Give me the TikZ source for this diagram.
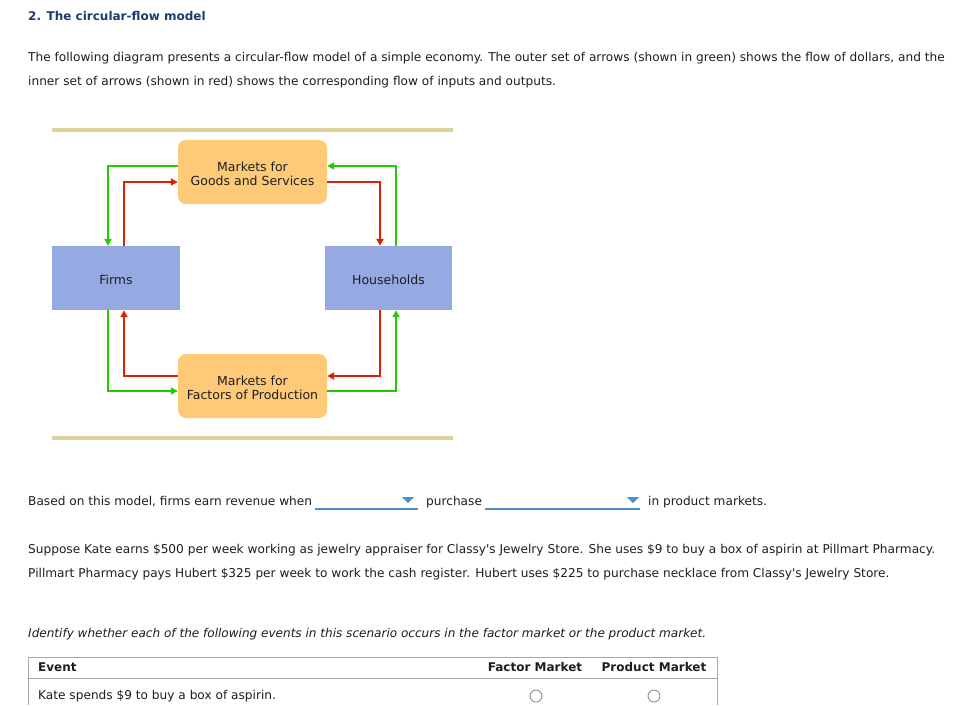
\documentclass[tikz,border=0pt]{standalone}
\usepackage{fontspec}
\setmainfont{DejaVu Sans}[Ligatures=TeXOff]
\usetikzlibrary{arrows.meta,calc}
\definecolor{titleblue}{HTML}{1A3D6B}
\definecolor{bodytext}{HTML}{1E1E1E}
\definecolor{flowgreen}{HTML}{22CC00}
\definecolor{flowred}{HTML}{DD2200}
\definecolor{mktfill}{HTML}{FFCA78}
\definecolor{agentfill}{HTML}{95AAE3}
\definecolor{tanrule}{HTML}{DDD19C}
\definecolor{ddblue}{HTML}{4A90CC}
\definecolor{tablegray}{HTML}{A8A8A8}
\definecolor{radiogray}{HTML}{808080}
\newcommand{\lowered}[1]{\raisebox{-1.5pt}[\height][\depth]{#1}}
\tikzset{
  txt/.style={anchor=base west, inner sep=0pt, text=bodytext, font=\fontsize{12.15}{14}\selectfont},
  boldtxt/.style={txt, font=\fontsize{12}{14}\selectfont\bfseries},
  mkt/.style={fill=mktfill, rounded corners=8pt, minimum width=149pt, minimum height=64pt, align=center, inner sep=0pt, text=bodytext, font=\fontsize{12.5}{15}\selectfont},
  agent/.style={fill=agentfill, minimum height=64pt, inner sep=0pt, text=bodytext, font=\fontsize{12.5}{15}\selectfont},
  flowtip/.style={-{Triangle[length=7pt,width=7pt]}},
  gflow/.style={draw=flowgreen, line width=2pt, flowtip},
  rflow/.style={draw=flowred, line width=2pt, flowtip},
  tanline/.style={draw=tanrule, line width=4pt},
  ddline/.style={draw=ddblue, line width=1.6pt},
  ddtri/.style={fill=ddblue},
  tableline/.style={draw=tablegray, line width=1pt},
  radio/.style={draw=radiogray, line width=0.8pt, circle, minimum size=12pt, inner sep=0pt},
}
\begin{document}
\begin{tikzpicture}[x=1pt,y=-1pt]
\useasboundingbox[fill=white] (0,0) rectangle (962,705);

% heading and intro
\node[boldtxt, text=titleblue] (title) at (28,20) {2. The circular-flow model};
\node[txt] (intro1) at (28,61) {The following diagram presents a circular-flow model of a simple economy. The outer set of arrows (shown in green) shows the flow of dollars, and the};
\node[txt] (intro2) at (28,85) {inner set of arrows (shown in red) shows the corresponding flow of inputs and outputs.};

% rules
\coordinate (r1a) at (52,130); \coordinate (r1b) at (453,130);
\coordinate (r2a) at (52,438); \coordinate (r2b) at (453,438);
\draw[tanline] (r1a) -- (r1b);
\draw[tanline] (r2a) -- (r2b);

% diagram nodes
\node[mkt] (goods) at (252.5,172) {\lowered{\shortstack{Markets for\\[1pt]Goods and Services}}};
\node[mkt] (factors) at (252.5,386) {\lowered{\shortstack{Markets for\\[1pt]Factors of Production}}};
\node[agent, minimum width=128pt] (firms) at (116,278) {\lowered{Firms}};
\node[agent, minimum width=127pt] (house) at (388.5,278) {\lowered{Households}};

% flows
\draw[gflow] ([yshift=6pt]goods.west) -| ([xshift=-8pt]firms.north);
\draw[rflow] ([xshift=8pt]firms.north) |- ([yshift=-10pt]goods.west);
\draw[gflow] ([xshift=7.5pt]house.north) |- ([yshift=6pt]goods.east);
\draw[rflow] ([yshift=-10pt]goods.east) -| ([xshift=-8.5pt]house.north);
\draw[rflow] ([xshift=-8.5pt]house.south) |- ([yshift=10pt]factors.east);
\draw[gflow] ([yshift=-5pt]factors.east) -| ([xshift=7.5pt]house.south);
\draw[rflow] ([yshift=10pt]factors.west) -| ([xshift=8pt]firms.south);
\draw[gflow] ([xshift=-8pt]firms.south) |- ([yshift=-5pt]factors.west);

% question with dropdowns
\node[txt] (q1) at (28,505) {Based on this model, firms earn revenue when};
\coordinate (dd1a) at (315,509); \coordinate (dd1b) at (418,509);
\draw[ddline] (dd1a) -- (dd1b);
\fill[ddtri] (402,497) -- (414,497) -- (408,503) -- cycle;
\node[txt] (q2) at (426,505) {purchase};
\coordinate (dd2a) at (485,509); \coordinate (dd2b) at (640,509);
\draw[ddline] (dd2a) -- (dd2b);
\fill[ddtri] (627,497) -- (639,497) -- (633,503) -- cycle;
\node[txt] (q3) at (648,505) {in product markets.};

% scenario
\node[txt] (s1) at (28,553) {Suppose Kate earns \$500 per week working as jewelry appraiser for Classy's Jewelry Store. She uses \$9 to buy a box of aspirin at Pillmart Pharmacy.};
\node[txt] (s2) at (28,577) {Pillmart Pharmacy pays Hubert \$325 per week to work the cash register. Hubert uses \$225 to purchase necklace from Classy's Jewelry Store.};

\node[txt, font=\fontsize{12.05}{14}\selectfont\itshape] (inst) at (28,637) {Identify whether each of the following events in this scenario occurs in the factor market or the product market.};

% table
\coordinate (tl) at (28,705); \coordinate (tt) at (28,657); \coordinate (tr) at (717,657); \coordinate (tb) at (717,705);
\draw[tableline] (tl) -- (tt) -- (tr) -- (tb);
\coordinate (hl) at (28,678); \coordinate (hr) at (717,678);
\draw[tableline] (hl) -- (hr);
\node[boldtxt] (hevent) at (38,671) {Event};
\node[boldtxt, anchor=base] (hfactor) at (535,671) {Factor Market};
\node[boldtxt, anchor=base] (hproduct) at (654,671) {Product Market};
\node[txt] (row1) at (38,699) {Kate spends \$9 to buy a box of aspirin.};
\node[radio] (rad1) at (536,696) {};
\node[radio] (rad2) at (654,696) {};
\end{tikzpicture}
\end{document}
